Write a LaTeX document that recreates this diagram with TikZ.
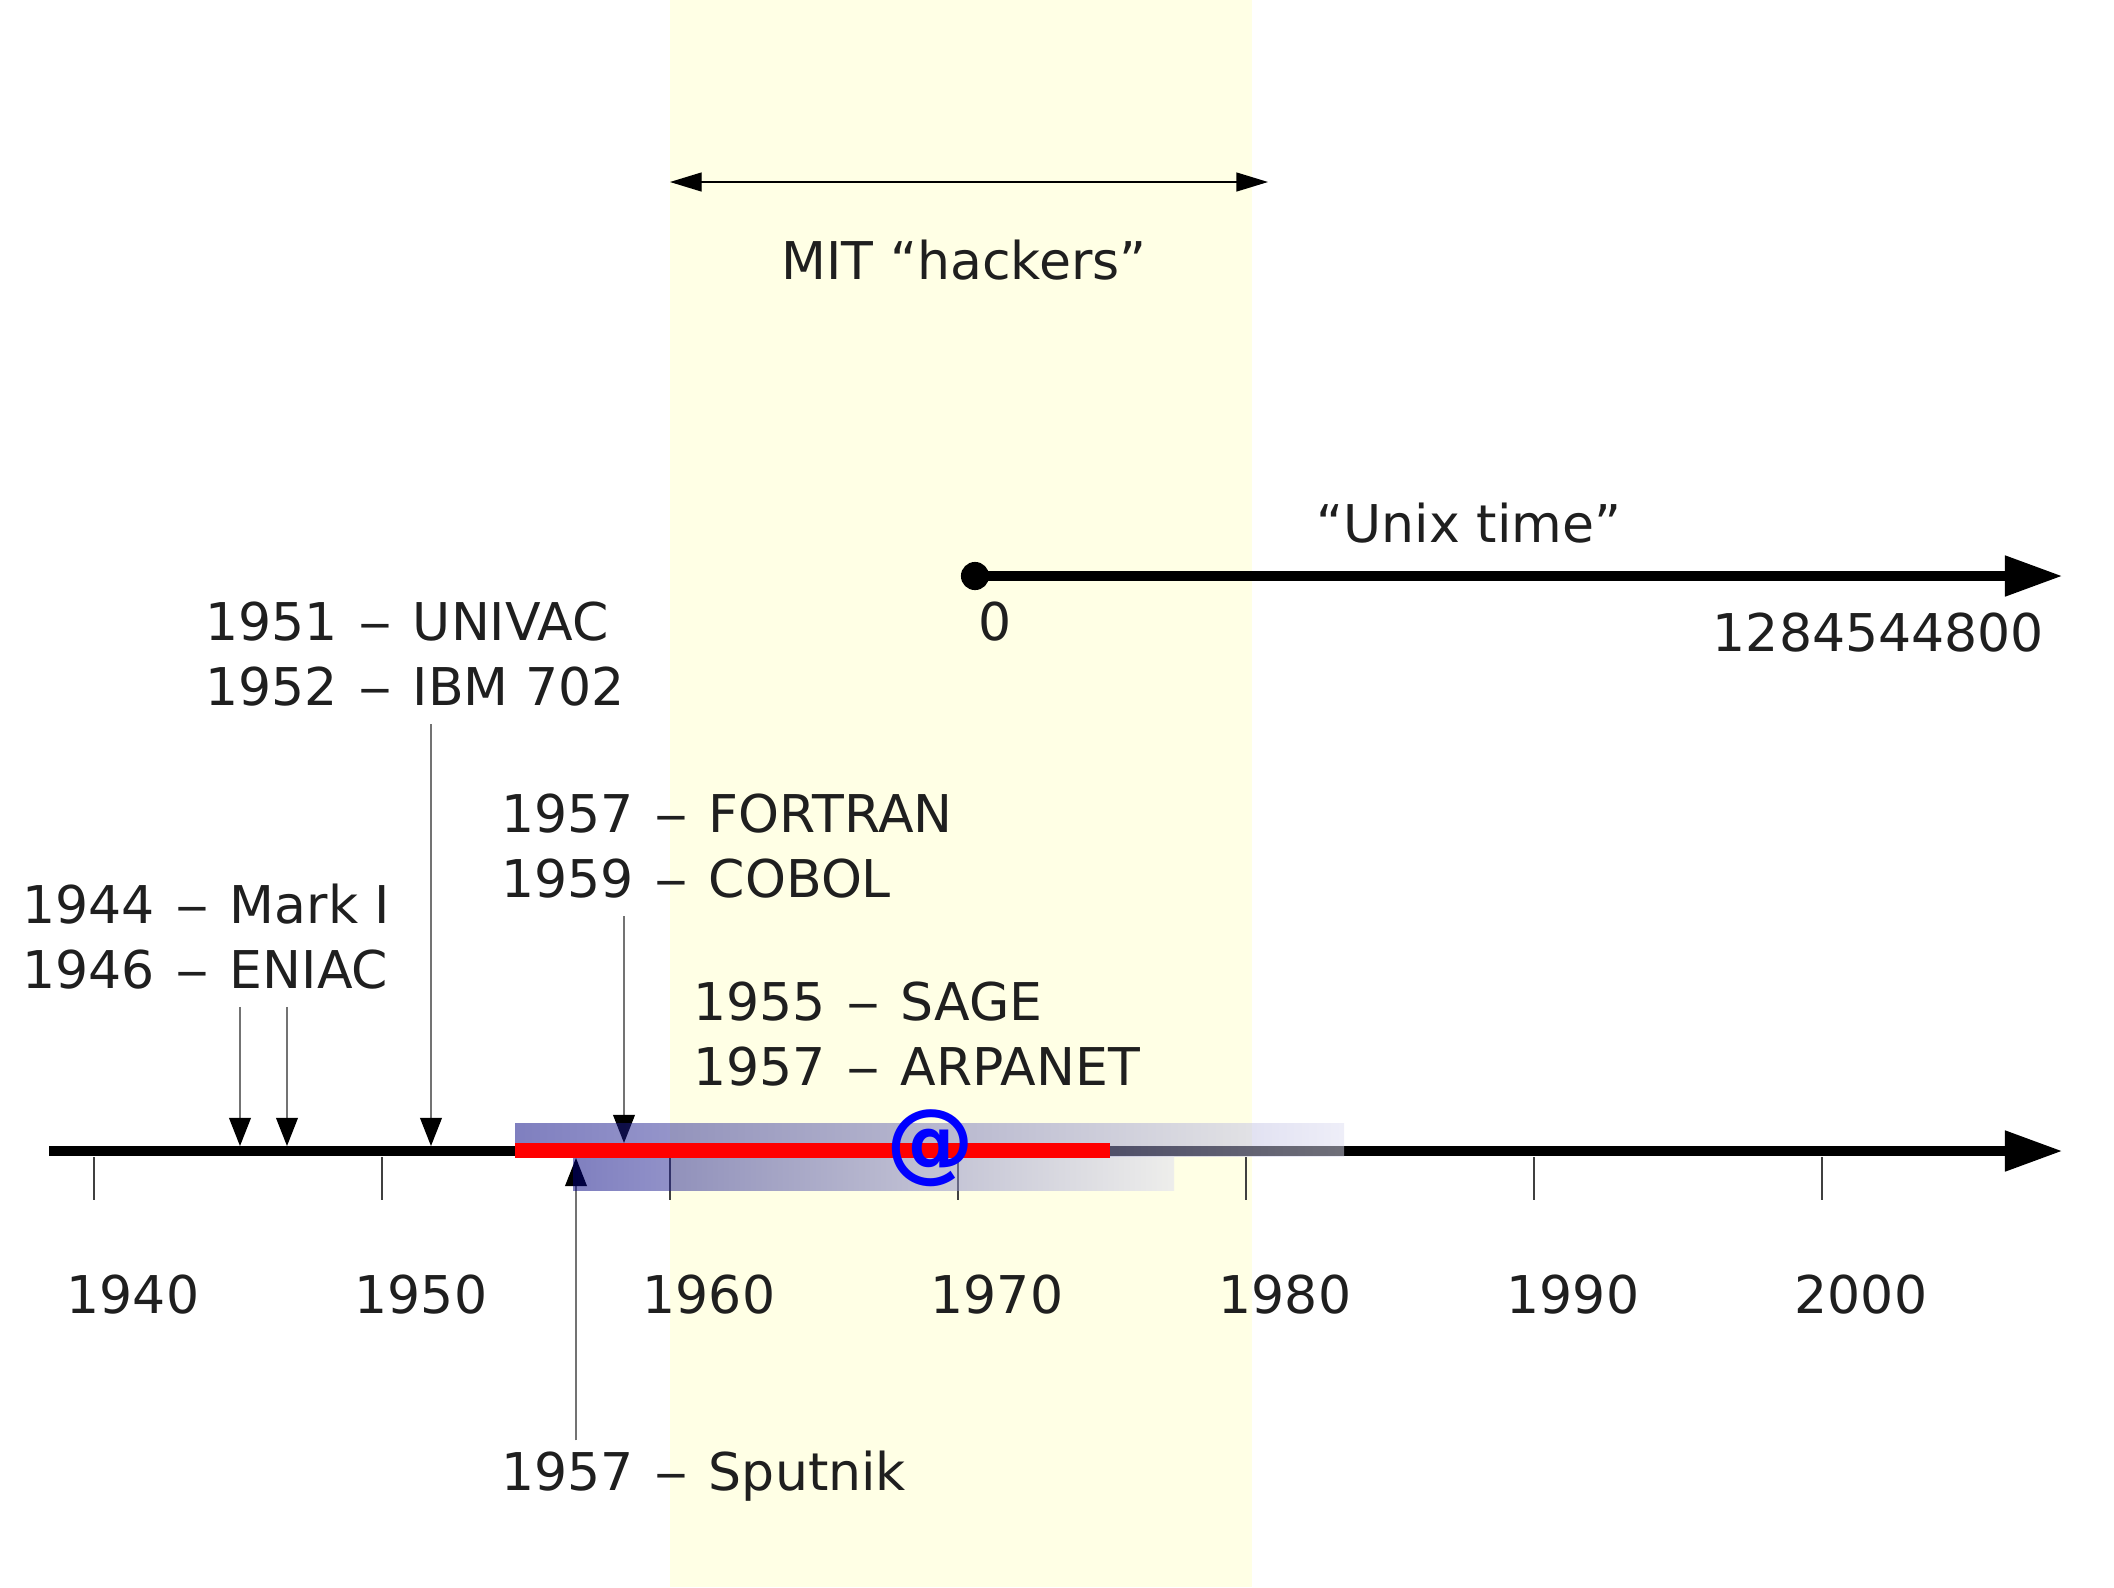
\documentclass[tikz,border=0pt]{standalone}
\usepackage{fontspec}
\setmainfont{DejaVu Sans}
\usetikzlibrary{arrows.meta}
\definecolor{hackyellow}{RGB}{255,255,229}
\definecolor{barnavy}{RGB}{0,0,128}
\definecolor{barfade}{RGB}{222,222,242}
\definecolor{tickgray}{RGB}{64,64,64}
\newcommand{\evdash}{\hspace{0.4em}\scalebox{1.3}[1]{–}\hspace{0.4em}}

\begin{document}
\begin{tikzpicture}[x=0.01cm, y=-0.01cm,
    lbl/.style={inner sep=0pt, outer sep=0pt, font=\fontsize{14.8}{18.5}\selectfont, text=black!88},
    event/.style={lbl, anchor=north west, align=left},
    pointer/.style={draw=black!55, line width=0.37pt, shorten <=5pt, -{Triangle[length=8pt, width=6.2pt, color=black]}},
    timeaxis/.style={line width=3.1pt, -{Triangle[length=16.5pt, width=10.8pt]}},
    fadebar/.style={left color=barnavy, right color=barfade, fill opacity=0.5, draw=none}]
\useasboundingbox (0,0) rectangle (2114,1587);
% the hacker years
\fill[hackyellow] (670,0) rectangle (1252,1587);
\coordinate (mitL) at (670,182);
\coordinate (mitR) at (1268,182);
\draw[line width=0.37pt, {Triangle[length=9pt, width=5.4pt]}-{Triangle[length=9pt, width=5.4pt]}] (mitL) -- (mitR);
\node[lbl, anchor=base] (mit) at (964,279) {MIT “hackers”};

% unix time
\node[circle, fill, inner sep=0pt, minimum size=8pt] (epoch) at (975,576) {};
\coordinate (now) at (2063,576);
\draw[timeaxis] (epoch.center) -- (now);
\node[lbl, anchor=base] (unix) at (1469,542) {“Unix time”};
\node[lbl, anchor=base] (zero) at (995,640) {0};
\node[lbl, anchor=base east] (stamp) at (2044,651) {1284544800};

% main axis
\coordinate (start) at (49,1151);
\coordinate (end) at (2063,1151);
\draw[timeaxis] (start) -- (end);
\foreach \yr [count=\i from 0] in {1940,1950,...,2000} {
  \coordinate (t\yr) at (94+288*\i,1157);
  \draw[tickgray, line width=0.3pt] (t\yr) -- ++(0,43);
  \node[lbl, anchor=base] (y\yr) at (133+288*\i,1313) {\yr};
}

% events
\node[event] (mark) at (22,884) {1944\evdash Mark I\\1946\evdash ENIAC};
\coordinate (a1944) at (240,1146);
\coordinate (a1946) at (287,1146);
\draw[pointer] (mark.south -| a1944) -- (a1944);
\draw[pointer] (mark.south -| a1946) -- (a1946);

\node[event] (univac) at (205,602) {1951\evdash UNIVAC\\1952\evdash IBM 702};
\coordinate (a1951) at (431,1146);
\draw[pointer] (univac.south -| a1951) -- (a1951);

\node[event] (fortran) at (501,794) {1957\evdash FORTRAN\\1959\evdash COBOL};
\coordinate (a1957) at (624,1143);
\draw[pointer] (fortran.south -| a1957) -- (a1957);

\node[event] (sage) at (693,982) {1955\evdash SAGE\\1957\evdash ARPANET};

\node[event] (sputnik) at (501,1451) {1957\evdash Sputnik};
\coordinate (s1957) at (576,1158);
\draw[pointer, shorten <=3pt] (sputnik.north -| s1957) -- (s1957);

% net bars
\shade[fadebar] (515,1123) rectangle (1344,1156);
\shade[fadebar] (573,1156) rectangle (1174,1190);
\fill[red] (515,1143) rectangle (1110,1158);
\node[text=blue, font=\bfseries\fontsize{25}{25}\selectfont, inner sep=0pt] (at) at (930,1148) {@};
\end{tikzpicture}
\end{document}
